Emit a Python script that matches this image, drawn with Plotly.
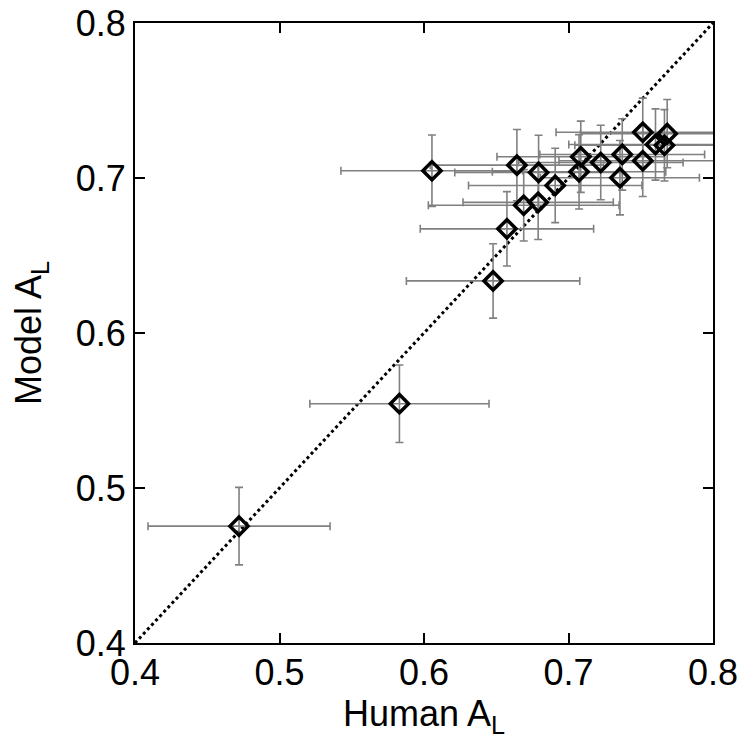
import plotly.graph_objects as go

human = [0.472, 0.583, 0.6055, 0.6643, 0.6793, 0.6908, 0.669, 0.679, 0.6574, 0.6478,
         0.7085, 0.7073, 0.7223, 0.7372, 0.7356, 0.7514, 0.7514, 0.7602, 0.7683, 0.7664]
model = [0.4754, 0.5544, 0.7047, 0.7083, 0.7036, 0.6952, 0.6824, 0.6843, 0.6672, 0.6336,
         0.7137, 0.704, 0.71, 0.7152, 0.7002, 0.7295, 0.7111, 0.7216, 0.7286, 0.7211]
human_err = [0.063, 0.062, 0.063, 0.060, 0.058, 0.060, 0.066, 0.052, 0.060, 0.060,
             0.058, 0.060, 0.057, 0.057, 0.055, 0.060, 0.058, 0.060, 0.060, 0.062]
model_err = [0.025, 0.025, 0.023, 0.023, 0.024, 0.024, 0.023, 0.024, 0.024, 0.024,
             0.023, 0.024, 0.024, 0.023, 0.024, 0.022, 0.023, 0.023, 0.022, 0.023]
diag = [0.4, 0.8]
ticks = [0.4, 0.5, 0.6, 0.7, 0.8]

FONT = "Liberation Sans, Arial, sans-serif"

fig = go.Figure()
fig.add_trace(go.Scatter(x=diag, y=diag, mode="lines",
                         line=dict(color="black", width=3, dash="dot"),
                         hoverinfo="skip", showlegend=False))
fig.add_trace(go.Scatter(
    x=human, y=model, mode="markers",
    marker=dict(symbol="diamond-open", size=14, color="black", line=dict(width=3.5, color="black")),
    error_x=dict(type="data", array=human_err, color="#808080", thickness=1.6, width=4),
    error_y=dict(type="data", array=model_err, color="#808080", thickness=1.6, width=4),
    showlegend=False))

axis_common = dict(range=[0.4, 0.8], tickvals=ticks, ticktext=[f"{t:.1f}" for t in ticks],
                   showgrid=False, zeroline=False, showline=True, linecolor="black",
                   linewidth=2, mirror="ticks", ticks="inside", ticklen=10, tickwidth=2,
                   tickcolor="black", automargin=False, ticklabeloverflow="allow",
                   tickfont=dict(family=FONT, size=36, color="black"),
                   title_font=dict(family=FONT, size=36, color="black"))

fig.update_layout(
    width=750, height=741,
    margin=dict(l=127, r=45, t=15, b=106),
    plot_bgcolor="white", paper_bgcolor="white",
    xaxis=dict(**axis_common, ticklabelstandoff=-3, title=dict(text="Human A<sub>L</sub>", standoff=2)),
    yaxis=dict(**axis_common, title=dict(text="Model A<sub>L</sub>", standoff=28)),
)
fig.write_html("out.html")
